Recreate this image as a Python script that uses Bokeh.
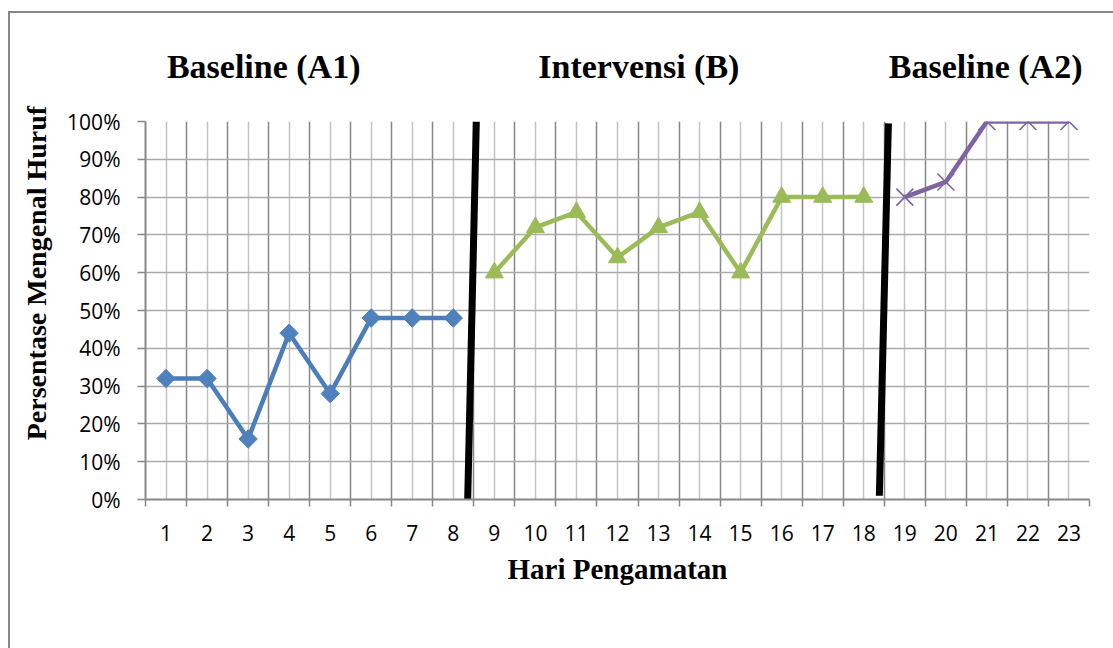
import math
from bokeh.plotting import figure
from bokeh.models import FixedTicker, NumeralTickFormatter, LinearAxis, Range1d
from bokeh.embed import file_html
from bokeh.resources import INLINE

# ---- data ----
days = [1, 2, 3, 4, 5, 6, 7, 8, 9, 10, 11, 12, 13, 14, 15, 16, 17, 18, 19, 20, 21, 22, 23]
a1_days = [1, 2, 3, 4, 5, 6, 7, 8]
a1_vals = [0.32, 0.32, 0.16, 0.44, 0.28, 0.48, 0.48, 0.48]
b_days = [9, 10, 11, 12, 13, 14, 15, 16, 17, 18]
b_vals = [0.60, 0.72, 0.76, 0.64, 0.72, 0.76, 0.60, 0.80, 0.80, 0.80]
a2_days = [19, 20, 21, 22, 23]
a2_vals = [0.80, 0.84, 1.00, 1.00, 1.00]
y_ticks = [0.0, 0.1, 0.2, 0.3, 0.4, 0.5, 0.6, 0.7, 0.8, 0.9, 1.0]
phase_titles = ["Baseline (A1)", "Intervensi (B)", "Baseline (A2)"]
phase_title_x = [3.38, 12.52, 20.97]
x_title = "Hari Pengamatan"
y_title = "Persentase Mengenal Huruf"
y_title_at = 0.599
# phase divider lines (bottom x, top x) in day units
divider_bottom_x = [8.35, 18.38]
divider_top_x = [8.56, 18.60]
divider_bottom_y = [0.0, 0.01]
divider_top_y = [1.0, 0.995]

BLUE = "#4A7EBB"
GREEN = "#9BBB59"
PURPLE = "#8064A2"
DARK_GRID = "#878787"
LIGHT_GRID = "#C3C3C3"
SERIF = "Liberation Serif"
SANS = "Open Sans"

p = figure(
    width=1103, height=635,
    frame_width=944, frame_height=378,
    min_border_left=135, min_border_right=24,
    min_border_top=108, min_border_bottom=149,
    x_range=Range1d(0.5, 23.5), y_range=Range1d(0, 1),
    output_backend="svg", toolbar_location=None,
)
p.styles = {"border-top": "2px solid #878787", "border-left": "2px solid #878787",
            "margin-top": "11px", "margin-left": "8px"}
p.outline_line_color = None
p.background_fill_color = "white"
p.border_fill_color = "white"

boundaries = [d - 0.5 for d in days] + [days[-1] + 0.5]
xt = FixedTicker(ticks=days, minor_ticks=boundaries)
p.xaxis.ticker = xt
p.xgrid.ticker = xt
p.xgrid.grid_line_color = LIGHT_GRID
p.xgrid.grid_line_width = 1.5
p.xgrid.minor_grid_line_color = DARK_GRID
p.xgrid.minor_grid_line_width = 1.5

yt = FixedTicker(ticks=y_ticks, minor_ticks=[])
p.yaxis.ticker = yt
p.ygrid.ticker = yt
p.ygrid.grid_line_color = "#ABABAB"
p.ygrid.grid_line_width = 1.5
p.yaxis.formatter = NumeralTickFormatter(format="0%")

for ax in (p.xaxis[0], p.yaxis[0]):
    ax.axis_line_color = DARK_GRID
    ax.axis_line_width = 2
    ax.major_label_text_font = SANS
    ax.major_label_text_font_size = "21px"
    ax.major_label_text_color = "black"
    ax.major_tick_line_color = DARK_GRID
    ax.major_tick_line_width = 1.5
    ax.minor_tick_line_color = DARK_GRID
    ax.minor_tick_line_width = 1.5

p.xaxis.major_tick_out = 0
p.xaxis.major_tick_in = 0
p.xaxis.minor_tick_out = 7
p.xaxis.minor_tick_in = 0
p.xaxis.major_label_standoff = 18
p.xaxis.axis_label = x_title
p.xaxis.axis_label_text_font = SERIF
p.xaxis.axis_label_text_font_style = "bold"
p.xaxis.axis_label_text_font_size = "29px"
p.xaxis.axis_label_text_color = "black"
p.xaxis.axis_label_standoff = 9

p.yaxis.major_tick_out = 8
p.yaxis.major_tick_in = 0
p.yaxis.minor_tick_out = 0
p.yaxis.minor_tick_in = 0
p.yaxis.major_label_standoff = 17

# y title as a label-only axis on the left
y_title_axis = LinearAxis(
    ticker=FixedTicker(ticks=[y_title_at], minor_ticks=[]),
    major_label_overrides={y_title_at: y_title},
    major_label_orientation="parallel",
    axis_line_color=None, major_tick_line_color=None, minor_tick_line_color=None,
    major_tick_out=0, major_tick_in=0,
    major_label_standoff=12,
    major_label_text_font=SERIF, major_label_text_font_style="bold",
    major_label_text_font_size="28px", major_label_text_color="black",
)
p.add_layout(y_title_axis, "left")

# phase titles as a label-only axis above
phase_axis = LinearAxis(
    ticker=FixedTicker(ticks=phase_title_x, minor_ticks=[]),
    major_label_overrides={x: t for x, t in zip(phase_title_x, phase_titles)},
    axis_line_color=None, major_tick_line_color=None, minor_tick_line_color=None,
    major_tick_out=0, major_tick_in=0,
    major_label_standoff=37,
    major_label_text_font=SERIF, major_label_text_font_style="bold",
    major_label_text_font_size="34px", major_label_text_color="black",
)
p.add_layout(phase_axis, "above")

# phase divider lines
p.segment(x0=divider_bottom_x, y0=divider_bottom_y, x1=divider_top_x, y1=divider_top_y,
          line_color="black", line_width=7)

# series
p.line(a1_days, a1_vals, line_color=BLUE, line_width=4.5)
p.scatter(a1_days, a1_vals, marker="square", angle=math.pi / 4, size=13,
          fill_color="#4F81BD", line_color="#4F81BD")

p.line(b_days, b_vals, line_color=GREEN, line_width=4.5)
p.scatter(b_days, b_vals, marker="triangle", size=18,
          fill_color=GREEN, line_color=GREEN)

p.line(a2_days, a2_vals, line_color=PURPLE, line_width=4.5)
p.scatter(a2_days, a2_vals, marker="x", size=24, line_color=PURPLE, line_width=1.6)

open("out.html", "w").write(file_html(p, INLINE))
